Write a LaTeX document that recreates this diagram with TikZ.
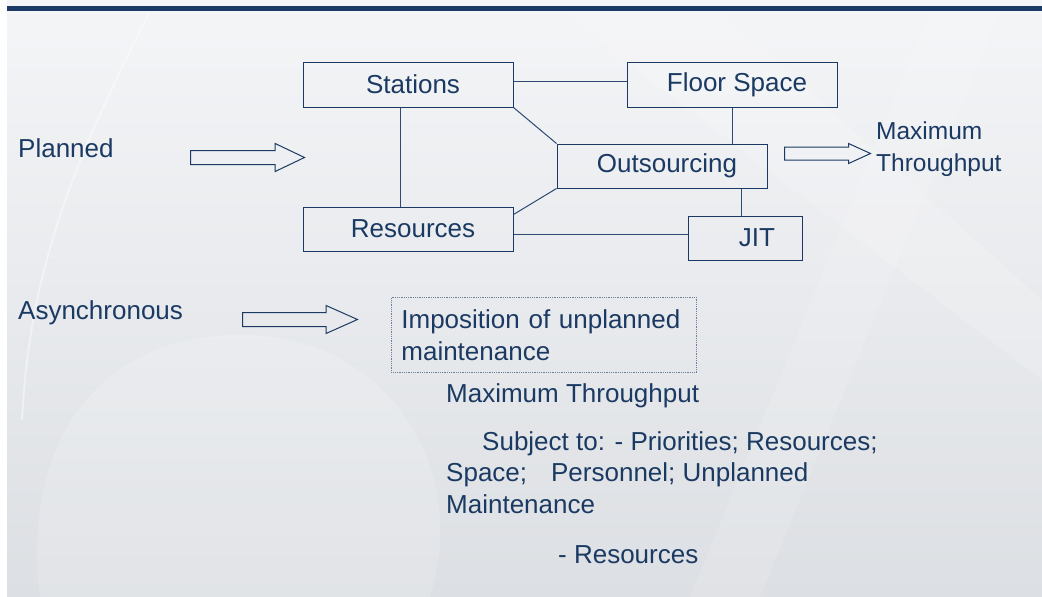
\documentclass[tikz,border=0pt]{standalone}
\usepackage{fontspec}
\setmainfont{Liberation Sans}
\usetikzlibrary{positioning,shapes.arrows}

\definecolor{navy}{HTML}{1B3A63}
\definecolor{barblue}{HTML}{1C3A66}
\definecolor{lineblue}{HTML}{2E4A73}
\definecolor{dotgray}{HTML}{6E8099}
\definecolor{bgtop}{HTML}{F4F5F7}
\definecolor{bgbot}{HTML}{DCDFE3}

\begin{document}
\begin{tikzpicture}[x=1pt, y=-1pt,
  txt/.style={text=navy, font=\fontsize{26}{32}\selectfont, inner sep=0pt},
  box/.style={draw=navy, line width=1pt, text=navy, font=\fontsize{26}{32}\selectfont,
              inner sep=0pt, minimum height=44pt, execute at begin node=\hspace*{10pt}},
  link/.style={draw=lineblue, line width=1pt},
  blockarr/.style={single arrow, draw=navy, line width=1pt, inner sep=0pt,
                   inner ysep=6.5pt, minimum width=0pt, anchor=tail}]
  \useasboundingbox (0,0) rectangle (1042,597);
  % slide background, swooshes and top rule
  \fill[white] (0,0) rectangle (1042,597);
  \shade[top color=bgtop, bottom color=bgbot] (7,0) rectangle (1042,597);
  \fill[white, opacity=0.16] (40,597) .. controls (20,430) and (110,330) .. (250,335)
    .. controls (390,340) and (470,470) .. (430,597) -- cycle;
  \fill[white, opacity=0.16] (560,11) -- (720,11) -- (1042,300) -- (1042,380) -- cycle;
  \fill[white, opacity=0.12] (930,11) -- (1000,11) -- (760,597) -- (690,597) -- cycle;
  \draw[white, line width=2pt, opacity=0.4] (150,11) .. controls (80,150) and (30,260) .. (22,420);
  \fill[barblue] (7,6) rectangle (1042,11);

  \node[box, minimum width=210pt, minimum height=45pt] (st) at (408,84.5) {Stations};
  \node[box, minimum width=210pt, minimum height=45pt] (fs) at (732,84.5) {Floor Space};
  \node[box, minimum width=210pt] (out) at (662,166) {Outsourcing};
  \node[box, minimum width=210pt] (re) at (408,229) {Resources};
  \node[box, minimum width=114pt, execute at begin node=\hspace*{14pt}] (jit) at (745,238) {JIT};

  \draw[link] ([yshift=3.5pt]st.east) -- ([yshift=3.5pt]fs.west);
  \draw[link] ([xshift=-8pt]st.south) -- ([xshift=-8pt]re.north);
  \draw[link] (st.south east) -- (out.north west);
  \draw[link] ([yshift=-8pt]re.north east) -- (out.south west);
  \coordinate (outdrop) at ([xshift=79pt]out.south);
  \coordinate (relink) at ([yshift=-5pt]re.east);
  \draw[link] (fs.south) -- (fs.south |- out.north);
  \draw[link] (outdrop) -- (outdrop |- jit.north);
  \draw[link] (relink) -- (relink -| jit.west);

  \node[txt, anchor=base west] (pl) at (18,157) {Planned};
  \node[txt, anchor=base west] (as) at (18,319) {Asynchronous};
  \node[blockarr, minimum height=114pt, single arrow tip angle=51,
        single arrow head extend=7pt] (plarr) at (190,157.5) {};
  \node[blockarr, minimum height=115pt, single arrow tip angle=48,
        single arrow head extend=7pt] (asarr) at (242,319.5) {};
  \node[blockarr, minimum height=86pt, inner ysep=6pt, single arrow tip angle=49,
        single arrow head extend=3.5pt] (mxarr) at (784,153.5) {};

  \node[txt, font=\fontsize{24.5}{32}\selectfont, anchor=base west] (mx) at (876,139) {Maximum};
  \node[txt, font=\fontsize{24.5}{32}\selectfont, anchor=base west] (tp) at (876,171) {Throughput};

  \node[txt, draw=dotgray, densely dotted, line width=0.8pt, text width=285pt, align=left,
        minimum width=305pt, minimum height=75pt, anchor=north west] (imp) at (391,297)
        {Imposition of unplanned\\maintenance};

  \node[txt, anchor=base west] (mt) at (446,402) {Maximum Throughput};
  \node[txt, anchor=base west] (sub) at (482,450) {Subject to: - Priorities; Resources;};
  \node[txt, anchor=base west] (sp) at (446,481) {Space;\hspace{24pt}Personnel; Unplanned};
  \node[txt, anchor=base west] (mn) at (446,513) {Maintenance};
  \node[txt, anchor=base west] (rs) at (558,563) {- Resources};
\end{tikzpicture}
\end{document}
